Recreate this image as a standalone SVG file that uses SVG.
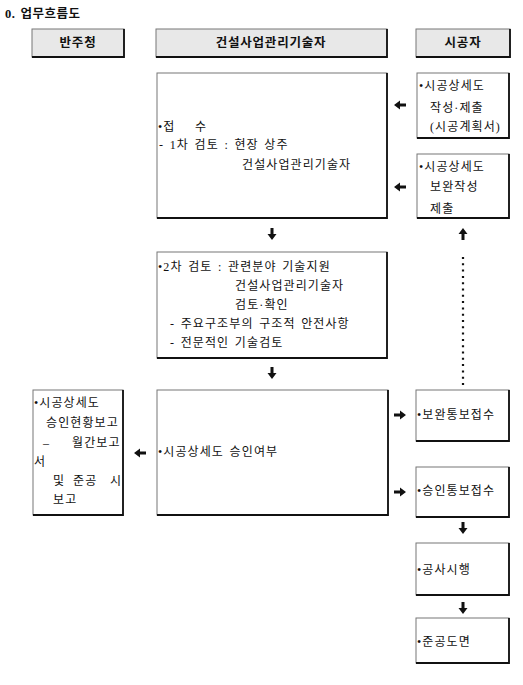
<svg xmlns="http://www.w3.org/2000/svg" width="523" height="685" viewBox="0 0 523 685">
<style>
  text { font-family: "Liberation Serif", "Noto Sans CJK KR", serif; font-size: 12px; fill: #111; letter-spacing: 1.1px; word-spacing: 1.5px; }
  .hd { font-weight: bold; text-anchor: middle; font-size: 12.5px; letter-spacing: 0.8px; }
  .title { font-weight: bold; font-size: 12.5px; letter-spacing: 0.5px; }
  .box { fill: #fff; stroke: #777; stroke-width: 1; }
  .hbox { fill: #e8e8e8; stroke: #777; stroke-width: 1; }
  .sh { fill: none; stroke: #111; stroke-width: 1.8; }
  .dots { stroke: #111; stroke-width: 2.2; stroke-dasharray: 2 4.3; fill: none; }
</style>
<defs>
  <path id="arr" d="M-6,-1.5 H0 V-4.5 L6,0 L0,4.5 V1.5 H-6 Z" fill="#111"/>
</defs>
<rect width="523" height="685" fill="#fff"/>
<text class="title" x="5" y="18">0. 업무흐름도</text>

<g id="h1"><rect class="hbox" x="32" y="29" width="92" height="28"/><polyline class="sh" points="124,29 124,57 32,57"/><text class="hd" x="78" y="47">반주청</text></g>
<g id="h2"><rect class="hbox" x="156" y="29" width="231" height="28"/><polyline class="sh" points="387,29 387,57 156,57"/><text class="hd" x="271" y="47">건설사업관리기술자</text></g>
<g id="h3"><rect class="hbox" x="416" y="29" width="94" height="28"/><polyline class="sh" points="510,29 510,57 416,57"/><text class="hd" x="463" y="47">시공자</text></g>

<g id="b1"><rect class="box" x="157" y="73" width="230" height="145"/><polyline class="sh" points="387,73 387,218 157,218"/>
  <text x="158" y="131">•접<tspan x="195">수</tspan></text>
  <text x="159" y="149">- 1차 검토 : 현장 상주</text>
  <text x="242" y="169">건설사업관리기술자</text>
</g>
<g id="r1"><rect class="box" x="417" y="73" width="92" height="65"/><polyline class="sh" points="509,73 509,138 417,138"/>
  <text x="419" y="90">•시공상세도</text>
  <text x="430" y="112">작성·제출</text>
  <text x="430" y="131">(시공계획서)</text>
</g>
<g id="r2"><rect class="box" x="417" y="154" width="92" height="64"/><polyline class="sh" points="509,154 509,218 417,218"/>
  <text x="419" y="171">•시공상세도</text>
  <text x="430" y="191">보완작성</text>
  <text x="430" y="213">제출</text>
</g>
<g id="b2"><rect class="box" x="157" y="252" width="230" height="106"/><polyline class="sh" points="387,252 387,358 157,358"/>
  <text x="158" y="271">•2차 검토 : 관련분야 기술지원</text>
  <text x="235" y="290">건설사업관리기술자</text>
  <text x="235" y="309">검토·확인</text>
  <text x="170" y="328">- 주요구조부의 구조적 안전사항</text>
  <text x="170" y="347">- 전문적인 기술검토</text>
</g>
<g id="l1"><rect class="box" x="33" y="390" width="90" height="125"/><polyline class="sh" points="123,390 123,515 33,515"/>
  <text x="34" y="407">•시공상세도</text>
  <text x="46" y="427">승인현황보고</text>
  <text x="43" y="447">–<tspan x="72">월간보고</tspan></text>
  <text x="34" y="466">서</text>
  <text x="53" y="485">및<tspan x="73">준공</tspan><tspan x="110">시</tspan></text>
  <text x="53" y="504">보고</text>
</g>
<g id="b3"><rect class="box" x="157" y="390" width="231" height="125"/><polyline class="sh" points="388,390 388,515 157,515"/>
  <text x="158" y="456">•시공상세도 승인여부</text>
</g>
<g id="r3"><rect class="box" x="416" y="390" width="93" height="51"/><polyline class="sh" points="509,390 509,441 416,441"/>
  <text x="417" y="419">•보완통보접수</text>
</g>
<g id="r4"><rect class="box" x="416" y="467" width="93" height="50"/><polyline class="sh" points="509,467 509,517 416,517"/>
  <text x="417" y="495">•승인통보접수</text>
</g>
<g id="r5"><rect class="box" x="416" y="543" width="93" height="52"/><polyline class="sh" points="509,543 509,595 416,595"/>
  <text x="417" y="574">•공사시행</text>
</g>
<g id="r6"><rect class="box" x="416" y="618" width="93" height="45"/><polyline class="sh" points="509,618 509,663 416,663"/>
  <text x="417" y="646">•준공도면</text>
</g>

<g id="connectors">
  <use href="#arr" transform="translate(400,105) rotate(180)"/>
  <use href="#arr" transform="translate(400,187) rotate(180)"/>
  <use href="#arr" transform="translate(272,234) rotate(90)"/>
  <use href="#arr" transform="translate(463,234) rotate(-90)"/>
  <use href="#arr" transform="translate(272,373) rotate(90)"/>
  <line class="dots" x1="463" y1="257" x2="463" y2="388"/>
  <use href="#arr" transform="translate(140,453) rotate(180)"/>
  <use href="#arr" transform="translate(400,415)"/>
  <use href="#arr" transform="translate(400,492)"/>
  <use href="#arr" transform="translate(463,528) rotate(90)"/>
  <use href="#arr" transform="translate(463,608) rotate(90)"/>
</g>
</svg>
